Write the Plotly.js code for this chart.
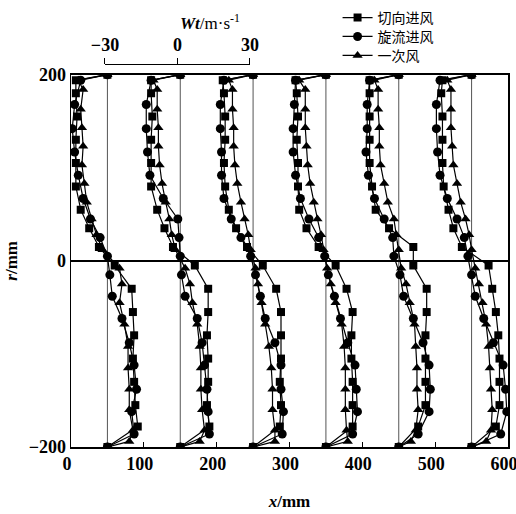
<!DOCTYPE html>
<html>
<head>
<meta charset="utf-8">
<script src="https://cdn.plot.ly/plotly-3.0.1.min.js"></script>
<style>html,body{margin:0;padding:0;background:#fff;}#chart{width:516px;height:514px;}</style>
</head>
<body>
<div id="chart"></div>
<script>
// ---- data ----
const stations = [50, 150, 250, 350, 450, 550];           // x of each measuring section, mm
const seriesNames = ['切向进风', '旋流进风', '一次风'];
const xTickVals = [0, 100, 200, 300, 400, 500, 600];
const yTickVals = [-200, 0, 200];
const wtTickVals = [-30, 0, 30];
const wtScaleMm = 100 / 30;                                 // 30 m/s drawn as 100 mm

// radial positions r (mm) for each series
const rSq = [200, 194, 180, 155, 130, 105, 80, 55, 35, 15, -5, -30, -55, -80, -105, -130, -155, -178, -200];
const rCi = [200, 194, 168, 142, 117, 92, 67, 45, 25, 5, -15, -38, -62, -88, -112, -138, -162, -186, -200];
const rTr = [200, 194, 184, 163, 143, 123, 103, 83, 63, 45, 28, 12, -8, -25, -45, -68, -92, -115, -138, -160, -182, -194, -200];

// tangential velocity Wt (m/s), one row per section
const wtSq = [
  [0, -13, -13, -12.5, -13, -13, -13, -11, -7.5, -3.5, 3, 10, 10.5, 11, 10.5, 11, 11.5, 12.5, 0],
  [0, -12, -12, -11.5, -12, -12, -12, -9.5, -6.5, -3, 6, 11.5, 11.5, 11, 11.5, 11.5, 11, 12, 0],
  [0, -12.5, -12, -11.5, -11.5, -12, -11.5, -10, -7, -2.5, 4, 9.5, 11.5, 11.5, 11.5, 11, 11.5, 11, 0],
  [0, -12.5, -12, -11.5, -12, -11.5, -11.5, -11, -8, -3, 4, 8.5, 11, 10.5, 10.5, 11, 11, 11, 0],
  [0, -12, -12, -12, -12, -12, -11, -9.5, -4, 6, 6, 11.5, 11.5, 11, 11, 11, 11, 8, 0],
  [0, -12, -12.5, -12, -12, -12, -11.5, -9.5, -7.5, -4, 7, 8.5, 10, 11, 11.5, 11.5, 11.5, 10, 0]
];
const wtCi = [
  [0, -11, -13.5, -14.5, -13.5, -12, -10, -7, -3, 0, 1, 2, 6, 9, 11, 12, 10, 11, 0],
  [0, -12, -14, -14, -13.5, -12.5, -7, -1, -0.5, 0, 0.5, 2, 7, 9, 10, 11, 11.5, 12, 0],
  [0, -12, -13.5, -13.5, -13, -13, -12, -9, -5, -1, 1, 3, 5, 9, 11.5, 11.5, 12.5, 12, 0],
  [0, -12.5, -13, -13.5, -13.5, -12.5, -10.5, -7, -3, -0.5, 1, 3.5, 6, 9, 12, 12.5, 13, 11, 0],
  [0, -12, -13, -13, -13.5, -12.5, -10, -6, -2.5, -2, 0.5, 2, 6, 10, 12.5, 13, 12.5, 8, 0],
  [0, -13, -14.5, -14.5, -14, -13, -10, -6, -3, -1.5, 0, 1.5, 5, 9, 13, 14, 14.5, 12, 0]
];
const wtTr = [
  [0, -12, -10, -11, -10.5, -10, -10.5, -9.5, -8.5, -6.5, -4.5, -2, 5, 6, 5, 7, 8.5, 8.5, 9, 9, 10.5, 9, 0],
  [0, -11, -9.5, -9.5, -9, -9, -8.5, -7.5, -6, -4.5, -3.5, -2, 2, 4, 5, 7, 8, 8.5, 8.5, 9, 10, 8, 0],
  [0, -10, -8.5, -8.5, -8, -8, -7.5, -6.5, -5, -3.5, -2, -1, 1, 2, 3.5, 5, 6.5, 7.5, 8, 8, 9, 9, 0],
  [0, -11, -8.5, -8.5, -8.5, -8, -7.5, -6.5, -5, -3.5, -2, -1, 0.5, 2, 4, 6.5, 7.5, 8, 8, 8, 8.5, 9, 0],
  [0, -10, -8.5, -8.5, -8, -8, -7.5, -6, -4.5, -2, -1, 0, 1, 3, 4.5, 6.5, 7, 7.5, 7.5, 8, 7, 5, 0],
  [0, -10, -8.5, -8.5, -8.5, -8, -7.5, -6, -4.5, -2.5, -1, 0, 1.5, 3, 4.5, 6, 7, 7.5, 8, 8.5, 8, 6, 0]
];

// ---- build traces ----
function profiles(rArr, wtRows) {
  const xs = [], ys = [];
  wtRows.forEach((row, i) => {
    row.forEach((w, j) => { xs.push(stations[i] + w * wtScaleMm); ys.push(rArr[j]); });
    xs.push(null); ys.push(null);
  });
  return {x: xs, y: ys};
}
const serif = 'Liberation Serif, Times New Roman, serif';
const tickFont = {family: serif, size: 18, color: '#000', weight: 'bold'};
const symbols = ['square', 'circle', 'triangle-up'];
const sizes = [8, 9, 9];
const legendIds = ['legend', 'legend2', 'legend3'];
const sets = [[rSq, wtSq], [rCi, wtCi], [rTr, wtTr]];
const traces = sets.map((s, k) => {
  const p = profiles(s[0], s[1]);
  return {
    type: 'scatter', mode: 'lines+markers', name: seriesNames[k], legend: legendIds[k],
    x: p.x, y: p.y, connectgaps: false,
    line: {color: '#000', width: 1.2},
    marker: {symbol: symbols[k], size: sizes[k], color: '#000'},
    xaxis: 'x', yaxis: 'y'
  };
});
// carrier for the Wt scale axis
traces.push({type: 'scatter', mode: 'markers', x: wtTickVals, y: [null, null, null],
  xaxis: 'x2', yaxis: 'y', showlegend: false, hoverinfo: 'skip'});

const shapes = stations.map(s => ({
  type: 'line', xref: 'x', yref: 'y', x0: s, x1: s, y0: -200, y1: 200,
  layer: 'below', line: {color: '#555', width: 1}
}));

function legendAt(yPaper) {
  return {
    x: 0.61, y: yPaper, xanchor: 'left', yanchor: 'middle',
    bgcolor: 'rgba(0,0,0,0)', itemwidth: 30, tracegroupgap: 0,
    font: {family: 'Noto Sans CJK SC, sans-serif', size: 14, color: '#000'}
  };
}

const layout = {
  width: 516, height: 514,
  margin: {l: 71, r: 8, t: 2, b: 67},
  paper_bgcolor: '#fff', plot_bgcolor: 'rgba(0,0,0,0)',
  showlegend: true,
  font: {family: serif, size: 18, color: '#000'},
  xaxis: {
    range: [0, 600], tickvals: xTickVals, ticks: 'inside', ticklen: 5, tickcolor: '#000',
    showline: true, linecolor: '#000', linewidth: 1.5, mirror: true,
    showgrid: false, zeroline: false, ticklabelshift: -4, ticklabeloverflow: 'allow',
    tickfont: tickFont,
    title: {text: '<i>x</i>/mm', font: {family: serif, size: 17, color: '#000', weight: 'bold'}, standoff: 22}
  },
  yaxis: {
    range: [-200, 200], domain: [0, 0.8404], tickvals: yTickVals, ticks: 'inside', ticklen: 5,
    tickcolor: '#000', showline: true, linecolor: '#000', linewidth: 1.5, mirror: true,
    showgrid: false, zeroline: true, zerolinecolor: '#000', zerolinewidth: 1.5,
    tickfont: tickFont,
    title: {text: '<i>r</i>/mm', font: {family: serif, size: 17, color: '#000', weight: 'bold'}, standoff: 6}
  },
  xaxis2: {
    anchor: 'free', position: 0.8652, domain: [0.0778, 0.4096], side: 'top',
    range: [-30, 30], tickvals: wtTickVals, ticks: 'outside', ticklen: 6, tickcolor: '#000',
    showline: true, linecolor: '#000', linewidth: 1.5, showgrid: false, zeroline: false,
    tickfont: tickFont
  },
  annotations: [{
    xref: 'paper', yref: 'paper', x: 0.245, y: 0.9596, xanchor: 'left', yanchor: 'middle',
    text: '<b><i>Wt</i></b>/m·s<sup>-1</sup>', showarrow: false,
    font: {family: serif, size: 17, color: '#000'}
  }],
  legend: legendAt(0.9685),
  legend2: legendAt(0.9258),
  legend3: legendAt(0.8831),
  shapes: shapes
};

Plotly.newPlot('chart', traces, layout, {staticPlot: true, displayModeBar: false});
</script>
</body>
</html>
